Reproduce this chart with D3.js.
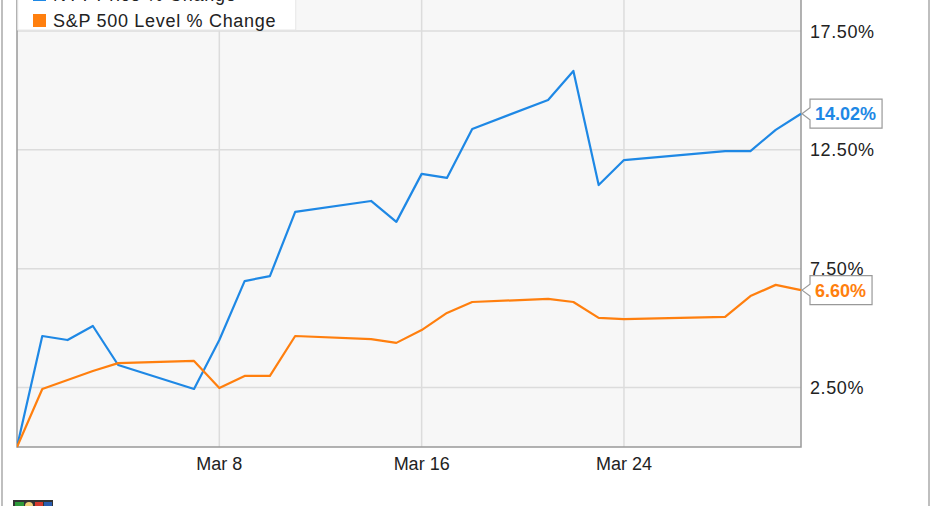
<!DOCTYPE html>
<html><head><meta charset="utf-8">
<script src="https://cdn.jsdelivr.net/npm/d3@7"></script>
<style>
html,body{margin:0;padding:0;background:#fff;}
svg{display:block;font-family:"Liberation Sans",Arial,sans-serif;}
</style></head>
<body>
<svg id="chart" width="931" height="506"></svg>
<script>
const dates = ["2016-02-29","2016-03-01","2016-03-02","2016-03-03","2016-03-04","2016-03-07","2016-03-08","2016-03-09","2016-03-10","2016-03-11","2016-03-14","2016-03-15","2016-03-16","2016-03-17","2016-03-18","2016-03-21","2016-03-22","2016-03-23","2016-03-24","2016-03-28","2016-03-29","2016-03-30","2016-03-31"];
const nytValues = [0,4.67,4.50,5.09,3.45,2.44,4.50,6.98,7.19,9.89,10.35,9.47,11.49,11.32,13.38,14.60,15.82,11.02,12.07,12.45,12.45,13.34,14.02];
const spxValues = [0,2.44,2.82,3.20,3.53,3.62,2.48,2.99,2.99,4.67,4.54,4.38,4.92,5.64,6.10,6.23,6.10,5.43,5.38,5.47,6.35,6.82,6.60];
const seriesNames = ["NYT Price % Change","S&P 500 Level % Change"];
const seriesColors = ["#1e88e5","#ff7f0e"];
const yTicks = [2.5,7.5,12.5,17.5];
const xTickDates = ["2016-03-08","2016-03-16","2016-03-24"];

const parse = d3.timeParse("%Y-%m-%d");
const svg = d3.select("#chart");
const L = 17, R = 801, B = 447, T = -30;

const x = d3.scaleTime().domain([parse(dates[0]), parse(dates[dates.length-1])]).range([L, R]);
const y = d3.scaleLinear().domain([0, 17.5]).range([447, 31]);

// outer frame lines
svg.append("line").attr("x1",2).attr("x2",2).attr("y1",0).attr("y2",506).attr("stroke","#aaa").attr("stroke-width",1.5);
svg.append("line").attr("x1",929).attr("x2",929).attr("y1",0).attr("y2",506).attr("stroke","#aaa").attr("stroke-width",1.5);

// plot background
svg.append("rect").attr("x",L).attr("y",T).attr("width",R-L).attr("height",B-T).attr("fill","#f7f7f7");

// gridlines
svg.append("g").selectAll("line").data(yTicks).join("line")
  .attr("x1",L).attr("x2",R).attr("y1",d=>y(d)).attr("y2",d=>y(d))
  .attr("stroke","#dcdcdc").attr("stroke-width",1.5);
svg.append("g").selectAll("line").data(xTickDates).join("line")
  .attr("x1",d=>x(parse(d))).attr("x2",d=>x(parse(d))).attr("y1",T).attr("y2",B)
  .attr("stroke","#dcdcdc").attr("stroke-width",1.5);

// plot border
svg.append("path").attr("d",`M${L},${T}V${B}H${R}V${T}`).attr("fill","none").attr("stroke","#999").attr("stroke-width",1.5);

// lines
const clip = svg.append("clipPath").attr("id","clip").append("rect").attr("x",L).attr("y",T).attr("width",R-L+1).attr("height",B-T+1);
const lineGen = d3.line().x((d,i)=>x(parse(dates[i]))).y(d=>y(d));
[nytValues, spxValues].forEach((vals,k)=>{
  svg.append("path").datum(vals).attr("d",lineGen).attr("fill","none")
    .attr("stroke",seriesColors[k]).attr("stroke-width",2.2).attr("stroke-linejoin","round")
    .attr("clip-path","url(#clip)");
});

// y tick labels
svg.append("g").selectAll("text").data(yTicks).join("text")
  .attr("x",810).attr("y",d=>y(d)+6.5).attr("font-size",18).attr("letter-spacing",0.6).attr("fill","#222")
  .text(d=>d3.format(".2f")(d)+"%");

// x tick labels
svg.append("g").selectAll("text").data(xTickDates).join("text")
  .attr("x",d=>x(parse(d))).attr("y",470).attr("text-anchor","middle").attr("font-size",18).attr("fill","#222")
  .text(d=>d3.timeFormat("%b %-d")(parse(d)));

// legend
const lg = svg.append("g");
lg.append("rect").attr("x",L+0.75).attr("y",-30).attr("width",278).attr("height",60).attr("fill","#fff").attr("stroke","#e6e6e6");
seriesNames.forEach((n,i)=>{
  const base = 1 + i*26;
  lg.append("rect").attr("x",33).attr("y",base-13).attr("width",13).attr("height",13).attr("fill",seriesColors[i]);
  lg.append("text").attr("x",53).attr("y",base).attr("font-size",18).attr("letter-spacing",0.7).attr("fill","#222").text(n);
});

// end-value callouts
[nytValues, spxValues].forEach((vals,k)=>{
  const v = vals[vals.length-1];
  const cy = y(v);
  const label = d3.format(".2f")(v)+"%";
  const g = svg.append("g");
  const t = g.append("text").attr("x",815).attr("y",cy+6.5).attr("font-size",18).attr("font-weight","bold")
    .attr("fill",seriesColors[k]).text(label);
  const w = t.node().getComputedTextLength();
  const bx = 810, bw = w + 11, bt = cy-14.5, bb = cy+14.5;
  g.insert("path","text").attr("d",`M${R+1},${cy}L${bx},${cy-6}V${bt}H${bx+bw}V${bb}H${bx}V${cy+6}Z`)
    .attr("fill","#fff").attr("stroke","#999").attr("stroke-width",1.2);
});

// small logo at bottom-left (cropped)
const logo = svg.append("g");
logo.append("rect").attr("x",13).attr("y",500).attr("width",40).attr("height",8).attr("fill","#333");
logo.append("rect").attr("x",15).attr("y",502).attr("width",9).attr("height",6).attr("fill","#2e9a3a");
logo.append("circle").attr("cx",29).attr("cy",506).attr("r",4).attr("fill","#f2d27a");
logo.append("rect").attr("x",35).attr("y",502).attr("width",8).attr("height",6).attr("fill","#d63a2f");
logo.append("rect").attr("x",44).attr("y",502).attr("width",8).attr("height",6).attr("fill","#2a5db0");
</script>
</body></html>
